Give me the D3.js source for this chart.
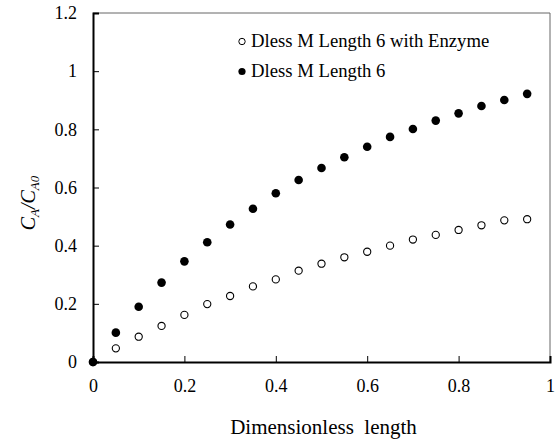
<!DOCTYPE html>
<html lang="en">
<head>
    <meta charset="UTF-8">
    <title>Dless M Length 6</title>
    <script src="https://cdn.jsdelivr.net/npm/d3@7"></script>
    <style>
        body{ margin: 0; background: #fff; }
        svg text{ font-family: "Liberation Serif", "Times New Roman", "DejaVu Serif", serif !important; white-space: pre; }
    </style>
</head>
<body>
    <svg width="557" height="442" id="mainsvg"></svg>
    <script>
        // data
        const xs = [0, 0.05, 0.1, 0.15, 0.2, 0.25, 0.3, 0.35, 0.4, 0.45, 0.5, 0.55, 0.6, 0.65, 0.7, 0.75, 0.8, 0.85, 0.9, 0.95]
        const withEnzyme = [0, 0.047, 0.087, 0.124, 0.162, 0.199, 0.227, 0.26, 0.284, 0.314, 0.338, 0.36, 0.379, 0.4, 0.421, 0.437, 0.454, 0.47, 0.487, 0.491]
        const noEnzyme = [0, 0.101, 0.19, 0.273, 0.346, 0.412, 0.473, 0.527, 0.58, 0.626, 0.667, 0.704, 0.74, 0.774, 0.801, 0.83, 0.855, 0.88, 0.901, 0.922]
        const xTicks = [0, 0.2, 0.4, 0.6, 0.8, 1]
        const yTicks = [0, 0.2, 0.4, 0.6, 0.8, 1, 1.2]
        const seriesNames = ["Dless M Length 6 with Enzyme", "Dless M Length 6"]

        const svg = d3.select('svg')
        const margin = {top: 13, right: 7, bottom: 80, left: 93}
        const width = +svg.attr('width')
        const height = +svg.attr('height')
        const innerWidth = width - margin.left - margin.right
        const innerHeight = height - margin.top - margin.bottom
        const g = svg.append('g').attr('transform', `translate(${margin.left}, ${margin.top})`)

        const x = d3.scaleLinear().domain([0, 1]).range([0, innerWidth])
        const y = d3.scaleLinear().domain([0, 1.2]).range([innerHeight, 0])

        // top / right frame (grey)
        g.append('line').attr('x1', 0).attr('x2', innerWidth).attr('y1', 0).attr('y2', 0)
            .attr('stroke', '#666').attr('stroke-width', 1)
        g.append('line').attr('x1', innerWidth).attr('x2', innerWidth).attr('y1', 0).attr('y2', innerHeight)
            .attr('stroke', '#666').attr('stroke-width', 1)

        const fmt = d => d3.format('~g')(d)

        const xAxis = g.append('g').attr('transform', `translate(0, ${innerHeight})`)
            .call(d3.axisBottom(x).tickValues(xTicks).tickFormat(fmt).tickSize(-6).tickPadding(17))
        xAxis.select('.domain').attr('stroke', '#000').attr('stroke-width', 2)
        xAxis.selectAll('.tick line').attr('stroke', '#000')
        xAxis.selectAll('text').attr('font-size', 18).attr('fill', '#000')

        const yAxis = g.append('g')
            .call(d3.axisLeft(y).tickValues(yTicks).tickFormat(fmt).tickSize(-6).tickPadding(16))
        yAxis.select('.domain').attr('stroke', '#000').attr('stroke-width', 2)
        yAxis.selectAll('.tick line').attr('stroke', '#000')
        yAxis.selectAll('text').attr('font-size', 18).attr('fill', '#000')

        // points
        const pts = xs.map((d, i) => ({x: d, a: withEnzyme[i], b: noEnzyme[i]}))
        g.selectAll('circle.open').data(pts).join('circle').attr('class', 'open')
            .attr('cx', d => x(d.x)).attr('cy', d => y(d.a)).attr('r', 3.6)
            .attr('fill', '#fff').attr('stroke', '#000').attr('stroke-width', 1.1)
        g.selectAll('circle.fill').data(pts).join('circle').attr('class', 'fill')
            .attr('cx', d => x(d.x)).attr('cy', d => y(d.b)).attr('r', 4.3)
            .attr('fill', '#000')

        // legend
        const legend = svg.append('g').attr('transform', 'translate(242, 41.5)')
        seriesNames.forEach((name, i) => {
            const row = legend.append('g').attr('transform', `translate(0, ${i * 30})`)
            row.append('circle').attr('r', i === 0 ? 3.2 : 3.6)
                .attr('fill', i === 0 ? '#fff' : '#000').attr('stroke', '#000').attr('stroke-width', i === 0 ? 1 : 0)
            row.append('text').attr('x', 9).attr('dy', '0.32em').attr('font-size', 18.7).text(name)
        })

        // axis titles
        svg.append('text').attr('x', margin.left + innerWidth / 2 + 2).attr('y', 434)
            .attr('text-anchor', 'middle').attr('font-size', 21).text('Dimensionless  length')

        const yl = svg.append('text').attr('transform', 'translate(35, 203) rotate(-90)')
            .attr('text-anchor', 'middle').attr('font-size', 20).attr('font-style', 'italic')
        yl.append('tspan').text('C')
        yl.append('tspan').attr('font-size', 13).attr('dy', 4).text('A')
        yl.append('tspan').attr('dy', -4).text('/C')
        yl.append('tspan').attr('font-size', 13).attr('dy', 4).text('A0')
    </script>
</body>
</html>
